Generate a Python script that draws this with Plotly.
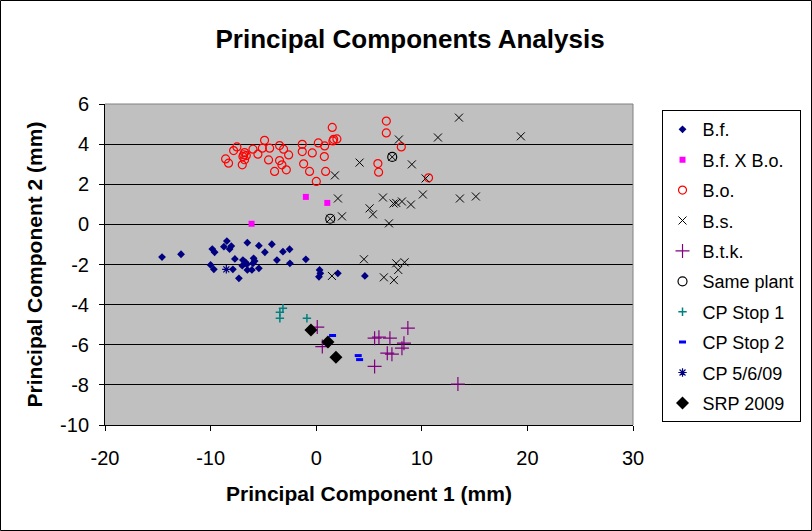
import plotly.graph_objects as go

# ______________________ data ______________________

bf_x = [-14.6, -12.8, -9.84, -9.62, -10.0, -9.69, -8.46, -8.74, -8.20, -8.04, -7.70, -7.89,
        -7.32, -6.94, -6.69, -7.0, -6.56, -6.52, -5.93, -5.83, -5.99, -6.52, -6.09, -5.43,
        -4.86, -5.43, -4.20, -3.72, -3.15, -2.52, -2.49, -0.98, 0.32, 0.39, 0.26, 2.05, 4.61]
bf_y = [-1.63, -1.49, -1.23, -1.39, -2.02, -2.24, -0.83, -1.11, -1.23, -1.08, -1.72, -2.24,
        -2.69, -1.78, -1.89, -2.06, -1.99, -0.91, -1.69, -1.83, -1.94, -2.27, -2.27, -1.06,
        -1.39, -2.19, -0.99, -1.78, -1.36, -1.24, -1.94, -1.74, -2.27, -2.44, -2.61, -2.44, -2.57]

bfxbo_x = [-6.12, -0.98, 1.05]
bfxbo_y = [0.03, 1.37, 1.07]

bo_x = [-8.58, -8.30, -7.82, -7.51, -6.78, -6.62, -6.94, -6.78, -7.0, -6.87, -5.99, -5.52,
        -5.10, -4.89, -4.41, -4.51, -3.94, -3.47, -3.09, -2.61, -3.47, -3.25, -2.83, -1.32,
        -1.32, -0.37, -1.19, -0.63, 0.01, 0.20, 0.80, 0.77, 0.89, 1.52, 1.65, 1.96, 1.58,
        5.84, 5.91, 6.64, 6.64, 8.06, 10.64]
bo_y = [3.26, 3.05, 3.68, 3.86, 3.58, 3.43, 3.38, 3.22, 2.97, 3.47, 3.75, 3.50,
        3.80, 4.19, 3.80, 3.21, 2.64, 3.93, 3.75, 3.46, 3.18, 2.97, 2.72, 3.99,
        3.63, 3.56, 3.02, 2.64, 2.14, 4.06, 3.91, 3.38, 2.64, 4.83, 4.24, 4.26, 4.16,
        3.03, 2.60, 5.15, 4.56, 3.86, 2.32]

bs_x = [1.77, 2.06, 1.33, 2.44, 4.11, 5.06, 5.37, 4.52, 1.49, 13.52, 11.53, 19.38, 7.83,
        7.20, 9.06, 10.36, 6.32, 7.33, 7.58, 8.12, 8.97, 10.10, 13.61, 15.12, 6.89, 7.58,
        8.37, 7.77, 6.41, 7.36]
bs_y = [2.44, 1.29, 0.28, 0.40, 3.08, 0.80, 0.50, -1.74, -2.57, 5.32, 4.33, 4.39, 4.23,
        3.36, 2.99, 2.29, 1.34, 1.04, 1.07, 1.14, 0.99, 1.49, 1.29, 1.39, 0.05, -1.94,
        -1.89, -2.27, -2.64, -2.78]

btk_x = [0.10, 0.58, 5.53, 5.94, 6.98, 8.68, 8.31, 8.12, 6.73, 7.17, 5.53, 13.42]
btk_y = [-5.12, -6.09, -5.67, -5.62, -5.67, -5.17, -5.92, -6.17, -6.42, -6.47, -7.08, -7.96]

same_x = [1.33, 7.20]
same_y = [0.28, 3.36]

cp1_x = [-3.15, -3.44, -3.44, -0.88]
cp1_y = [-4.18, -4.38, -4.68, -4.68]

cp2_x = [1.55, 3.98, 4.11]
cp2_y = [-5.54, -6.54, -6.74]

cp509_x = [-8.51]
cp509_y = [-2.24]

srp_x = [-0.50, 1.11, 1.87]
srp_y = [-5.27, -5.86, -6.62]

x_ticks = [-20, -10, 0, 10, 20, 30]
x_labels = ["-20", "-10", "0", "10", "20", "30"]
y_ticks = [-10, -8, -6, -4, -2, 0, 2, 4, 6]
y_labels = ["-10", "-8", "-6", "-4", "-2", "0", "2", "4", "6"]

# ______________________________________________________________________

FONT = "Arial, Liberation Sans, sans-serif"

series = [
    ("B.f.", bf_x, bf_y, dict(symbol="diamond", size=6, color="#000080")),
    ("B.f. X B.o.", bfxbo_x, bfxbo_y, dict(symbol="square", size=6, color="#FF00FF")),
    ("B.o.", bo_x, bo_y, dict(symbol="circle-open", size=8, color="#FF0000", line=dict(width=1.2))),
    ("B.s.", bs_x, bs_y, dict(symbol="x-thin-open", size=8, color="black", line=dict(width=1, color="black"))),
    ("B.t.k.", btk_x, btk_y, dict(symbol="cross-thin-open", size=10, color="#800080", line=dict(width=1.2, color="#800080"))),
    ("Same plant", same_x, same_y, dict(symbol="circle-open", size=9, color="black", line=dict(width=1.2))),
    ("CP Stop 1", cp1_x, cp1_y, dict(symbol="cross-thin-open", size=6, color="#008080", line=dict(width=1.5, color="#008080"))),
    ("CP Stop 2", cp2_x, cp2_y, dict(symbol="line-ew-open", size=5, color="#0000FF", line=dict(width=3, color="#0000FF"))),
    ("CP 5/6/09", cp509_x, cp509_y, dict(symbol="asterisk-open", size=7, color="#000080", line=dict(width=1.2, color="#000080"))),
    ("SRP 2009", srp_x, srp_y, dict(symbol="diamond", size=10, color="black")),
]

fig = go.Figure()
for i, (name, xs, ys, mk) in enumerate(series):
    fig.add_trace(go.Scatter(x=xs, y=ys, mode="markers", name=name, marker=mk,
                             legendgroup="g%d" % i))

fig.update_layout(
    width=812, height=531,
    margin=dict(l=105, r=179, t=104, b=106, autoexpand=False),
    paper_bgcolor="white",
    plot_bgcolor="#C0C0C0",
    font=dict(family=FONT, size=19, color="black"),
    title=dict(text="<b>Principal Components Analysis</b>", font=dict(size=26),
               x=0.505, xref="container", xanchor="center",
               y=1 - 39 / 531, yref="container", yanchor="middle"),
    showlegend=True,
    legend=dict(x=1.054, xanchor="left", y=0.981, yanchor="top",
                bgcolor="white", bordercolor="black", borderwidth=1,
                font=dict(size=18), tracegroupgap=4, itemsizing="trace"),
)

fig.update_xaxes(range=[-20, 30], tickvals=x_ticks, ticktext=x_labels,
                 showgrid=False, zeroline=False, automargin=False,
                 showline=True, linecolor="black", linewidth=1,
                 ticks="outside", ticklen=5, tickcolor="black", ticklabelstandoff=10,
                 tickfont=dict(size=20),
                 title=dict(text="<b>Principal Component 1 (mm)</b>", font=dict(size=21), standoff=18))
fig.update_yaxes(range=[-10, 6], tickvals=y_ticks, ticktext=y_labels,
                 showgrid=True, gridcolor="black", gridwidth=1,
                 zeroline=False, automargin=False,
                 showline=True, linecolor="black", linewidth=1,
                 ticks="outside", ticklen=5, tickcolor="black", ticklabelstandoff=6,
                 tickfont=dict(size=20),
                 title=dict(text="<b>Principal Component 2 (mm)</b>", font=dict(size=21), standoff=11))

# gray top/right edge of the plot area and black frame round the chart
fig.add_shape(type="line", xref="paper", yref="paper", x0=0, x1=1, y0=1, y1=1,
              line=dict(color="#808080", width=1))
fig.add_shape(type="line", xref="paper", yref="paper", x0=1, x1=1, y0=0, y1=1,
              line=dict(color="#808080", width=1))
fig.add_shape(type="rect", xref="paper", yref="paper",
              x0=(0.5 - 105) / 528, x1=(811.5 - 105) / 528,
              y0=(425 - 530.5) / 321, y1=(425 - 0.5) / 321,
              line=dict(color="black", width=1))

# the page's default 8px body margin would push the chart off its spot
fig.write_html("out.html", config={"displayModeBar": False},
               post_script="document.body.style.margin = '0';")
